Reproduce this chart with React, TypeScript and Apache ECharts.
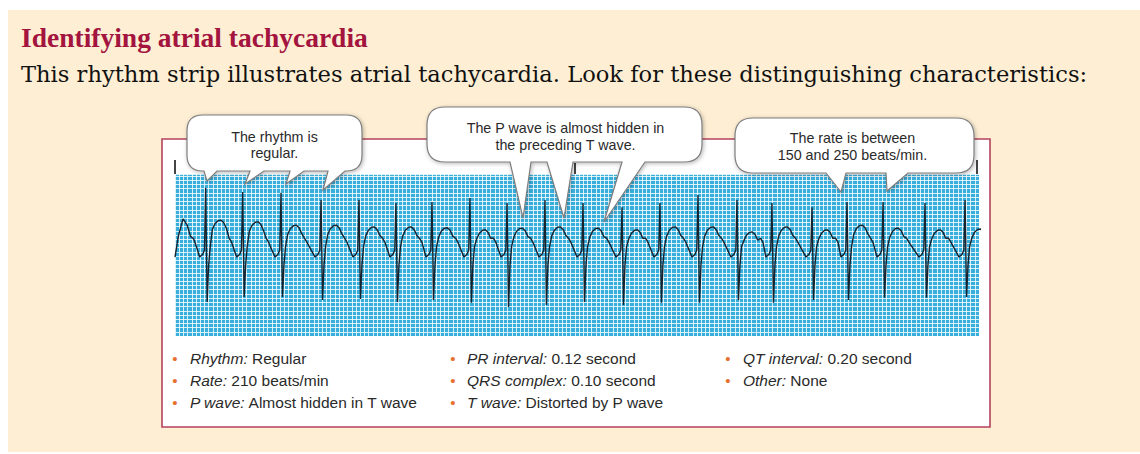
import React, { useEffect, useRef } from "react";
import * as echarts from "echarts";

// ---------- texts ----------
const TITLE = "Identifying atrial tachycardia";
const SUBTITLE =
  "This rhythm strip illustrates atrial tachycardia. Look for these distinguishing characteristics:";

const CALLOUT_TEXTS = [
  "The rhythm is\nregular.",
  "The P wave is almost hidden in\nthe preceding T wave.",
  "The rate is between\n150 and 250 beats/min.",
];

const BULLET_COL1 = [
  ["Rhythm:", "Regular"],
  ["Rate:", "210 beats/min"],
  ["P wave:", "Almost hidden in T wave"],
];
const BULLET_COL2 = [
  ["PR interval:", "0.12 second"],
  ["QRS complex:", "0.10 second"],
  ["T wave:", "Distorted by P wave"],
];
const BULLET_COL3 = [
  ["QT interval:", "0.20 second"],
  ["Other:", "None"],
];

// ---------- ECG data (seconds / mV), read from the strip ----------
const STRIP_SECONDS = 6;
const MV_MIN = -1.93;
const MV_MAX = 1.93;
const GRID_BOXES_X = 191;
const GRID_BOXES_Y = 38.5;

// R-wave times (s)
const R_TIMES_S = [
  0.229, 0.505, 0.791, 1.09, 1.373, 1.649, 1.918, 2.201, 2.478, 2.761, 3.045,
  3.336, 3.619, 3.903, 4.194, 4.455, 4.754, 5.015, 5.284, 5.597, 5.896,
];
// R peak amplitude (mV)
const R_AMP_MV = [
  1.6, 1.5, 1.48, 1.31, 1.31, 1.24, 1.26, 1.36, 1.24, 1.31, 1.24, 1.14, 1.24,
  1.43, 1.31, 1.24, 1.14, 1.26, 1.26, 1.24, 1.31,
];
// S trough amplitude (mV)
const S_AMP_MV = [
  -1.12, -1.0, -1.0, -1.07, -1.05, -1.12, -1.07, -1.14, -1.24, -1.19, -1.12,
  -1.19, -1.14, -1.14, -1.07, -1.14, -1.07, -1.07, -1.02, -1.02, -1.0,
];
// T-wave peak following each R (mV)
const T_AMP_MV = [
  0.83, 0.79, 0.71, 0.71, 0.67, 0.67, 0.65, 0.6, 0.64, 0.67, 0.64, 0.6, 0.67,
  0.67, 0.55, 0.67, 0.6, 0.71, 0.64, 0.6, 0.62,
];
// partial complex at the very start of the strip
const LEAD_IN: number[][] = [
  [0, -0.05],
  [0.025, 0.45],
  [0.06, 0.86],
  [0.09, 0.72],
  [0.115, 0.45],
  [0.14, 0.38],
  [0.165, 0.15],
];
// shape of one complex: [offset from R (s), kind, value]
const BEAT_SHAPE: Array<[number, string, number]> = [
  [-0.045, "abs", -0.05],
  [-0.022, "abs", 0.02],
  [-0.009, "abs", 0.12],
  [0, "R", 0],
  [0.011, "S", 0],
  [0.022, "abs", -0.25],
  [0.034, "abs", 0.2],
  [0.05, "T", -0.22],
  [0.07, "T", -0.08],
  [0.094, "T", -0.01],
  [0.115, "T", 0],
  [0.135, "T", -0.06],
  [0.155, "T", -0.2],
  [0.175, "abs", 0.4],
  [0.194, "abs", 0.3],
];

function buildEcg(): number[][] {
  const pts: number[][] = LEAD_IN.map((p) => [p[0], p[1]]);
  R_TIMES_S.forEach((r, i) => {
    BEAT_SHAPE.forEach(([dt, kind, v]) => {
      let y = v;
      if (kind === "R") y = R_AMP_MV[i];
      else if (kind === "S") y = S_AMP_MV[i];
      else if (kind === "T") y = T_AMP_MV[i] + v;
      pts.push([+(r + dt).toFixed(4), y]);
    });
  });
  return pts;
}

// ---------- callout geometry ----------
type Tail = { b1: number; b2: number; tx: number; ty: number };
type Bubble = { x0: number; x1: number; y0: number; y1: number; r: number; tails: Tail[] };
const BUBBLES: Bubble[] = [
  {
    x0: 187, x1: 362, y0: 115, y1: 171, r: 16,
    tails: [
      { b1: 204, b2: 217, tx: 207, ty: 181 },
      { b1: 250, b2: 264, tx: 245, ty: 184 },
      { b1: 290, b2: 304, tx: 286, ty: 184 },
      { b1: 328, b2: 345, tx: 323, ty: 190 },
    ],
  },
  {
    x0: 427, x1: 702, y0: 107, y1: 162, r: 18,
    tails: [
      { b1: 510, b2: 531, tx: 523, ty: 218 },
      { b1: 547, b2: 573, tx: 564, ty: 218 },
      { b1: 622, b2: 645, tx: 604, ty: 222 },
    ],
  },
  {
    x0: 735, x1: 974, y0: 118, y1: 173, r: 18,
    tails: [
      { b1: 826, b2: 846, tx: 841, ty: 192 },
      { b1: 886, b2: 908, tx: 887, ty: 191 },
    ],
  },
];

function bubblePath(b: Bubble): string {
  const { x0, x1, y0, y1, r } = b;
  let d = `M${x0 + r} ${y0} L${x1 - r} ${y0} Q${x1} ${y0} ${x1} ${y0 + r} L${x1} ${y1 - r} Q${x1} ${y1} ${x1 - r} ${y1}`;
  const tails = [...b.tails].sort((a, c) => c.b2 - a.b2);
  tails.forEach((t) => {
    d += ` L${t.b2} ${y1} L${t.tx} ${t.ty} L${t.b1} ${y1}`;
  });
  d += ` L${x0 + r} ${y1} Q${x0} ${y1} ${x0} ${y1 - r} L${x0} ${y0 + r} Q${x0} ${y0} ${x0 + r} ${y0} Z`;
  return d;
}

const SANS = '"Liberation Sans", Arial, sans-serif';

export default function App() {
  const ref = useRef<HTMLDivElement>(null);

  useEffect(() => {
    if (!ref.current) return;
    BUBBLES.forEach((b, i) => {
      echarts.graphic.registerShape(
        "bubble" + i,
        echarts.graphic.extendPath(bubblePath(b), {}) as any
      );
    });
    const chart = echarts.init(ref.current, null, { renderer: "svg" });

    const graphic: any[] = [];
    graphic.push({
      type: "rect",
      z: -10,
      silent: true,
      shape: { x: 8, y: 10, width: 1132, height: 442 },
      style: { fill: "#FEEFD4" },
    });
    graphic.push({
      type: "rect",
      z: -9,
      silent: true,
      shape: { x: 162, y: 139, width: 828, height: 288 },
      style: { fill: "#ffffff", stroke: "#B4425E", lineWidth: 1.6 },
    });
    graphic.push({
      type: "text",
      z: 5,
      style: {
        text: TITLE,
        x: 21,
        y: 37,
        verticalAlign: "middle",
        fill: "#A3143F",
        fontFamily: '"Liberation Serif", serif',
        fontWeight: "bold",
        fontSize: 27.5,
      },
    });
    graphic.push({
      type: "text",
      z: 5,
      style: {
        text: SUBTITLE,
        x: 21,
        y: 74,
        verticalAlign: "middle",
        fill: "#111111",
        fontFamily: '"DejaVu Serif", serif',
        fontSize: 22.6,
      },
    });
    // 3-second tick marks
    [
      [175, 160],
      [575, 163],
      [977, 160],
    ].forEach(([x, y]) => {
      graphic.push({
        type: "line",
        z: 5,
        shape: { x1: x, y1: y, x2: x, y2: 174 },
        style: { stroke: "#444444", lineWidth: 2 },
      });
    });
    // callouts
    BUBBLES.forEach((b, i) => {
      graphic.push({
        type: "bubble" + i,
        z: 20,
        x: 0,
        y: 0,
        style: {
          fill: "#ffffff",
          stroke: "#7d7d7d",
          lineWidth: 1.2,
          shadowBlur: 4,
          shadowOffsetX: 1,
          shadowOffsetY: 1,
          shadowColor: "rgba(0,0,0,0.3)",
        },
      });
      graphic.push({
        type: "text",
        z: 21,
        style: {
          text: CALLOUT_TEXTS[i],
          x: (b.x0 + b.x1) / 2 + [0, 1, -2][i],
          y: [145, 136.5, 146.5][i],
          align: "center",
          verticalAlign: "middle",
          fontFamily: SANS,
          fontSize: 14.3,
          lineHeight: 16.5,
          fill: "#2a2a2a",
        },
      });
    });
    // bullets
    const cols = [
      { items: BULLET_COL1, bx: 175, tx: 190 },
      { items: BULLET_COL2, bx: 453, tx: 467 },
      { items: BULLET_COL3, bx: 728, tx: 743 },
    ];
    const rowY = [358, 380, 402];
    cols.forEach((c) => {
      c.items.forEach(([label, value], r) => {
        graphic.push({
          type: "text",
          z: 5,
          style: {
            text: "•",
            x: c.bx,
            y: rowY[r],
            align: "center",
            verticalAlign: "middle",
            fontFamily: SANS,
            fontSize: 15,
            fill: "#E8702F",
          },
        });
        graphic.push({
          type: "text",
          z: 5,
          style: {
            text: `{i|${label}} ${value}`,
            x: c.tx,
            y: rowY[r],
            verticalAlign: "middle",
            fontFamily: SANS,
            fontSize: 15.5,
            fill: "#2a2a2a",
            rich: {
              i: {
                fontStyle: "italic",
                fontFamily: SANS,
                fontSize: 15.5,
                fill: "#2a2a2a",
              },
            },
          },
        });
      });
    });

    const hiddenAxis = {
      show: false,
    };
    const gridLine = { show: true, lineStyle: { color: "#ffffff", width: 1, opacity: 0.8 } };

    chart.setOption({
      animation: false,
      backgroundColor: "#ffffff",
      graphic,
      grid: {
        left: 175,
        top: 174,
        width: 804,
        height: 162,
        show: true,
        backgroundColor: "#38AEDD",
        borderWidth: 0,
        containLabel: false,
      },
      xAxis: [
        { type: "value", min: 0, max: STRIP_SECONDS, ...hiddenAxis },
        {
          type: "value",
          min: 0,
          max: GRID_BOXES_X,
          interval: 1,
          axisLine: { show: false },
          axisTick: { show: false },
          axisLabel: { show: false },
          splitLine: gridLine,
        },
      ],
      yAxis: [
        { type: "value", min: MV_MIN, max: MV_MAX, ...hiddenAxis },
        {
          type: "value",
          min: 0,
          max: GRID_BOXES_Y,
          interval: 1,
          axisLine: { show: false },
          axisTick: { show: false },
          axisLabel: { show: false },
          splitLine: gridLine,
        },
      ],
      series: [
        {
          type: "line",
          xAxisIndex: 0,
          yAxisIndex: 0,
          data: buildEcg(),
          symbol: "none",
          showSymbol: false,
          silent: true,
          clip: true,
          z: 3,
          lineStyle: { color: "#17222c", width: 1.4 },
        },
      ],
    });

    return () => chart.dispose();
  }, []);

  return (
    <div
      ref={ref}
      style={{ position: "absolute", left: 0, top: 0, width: 1140, height: 454 }}
    />
  );
}
